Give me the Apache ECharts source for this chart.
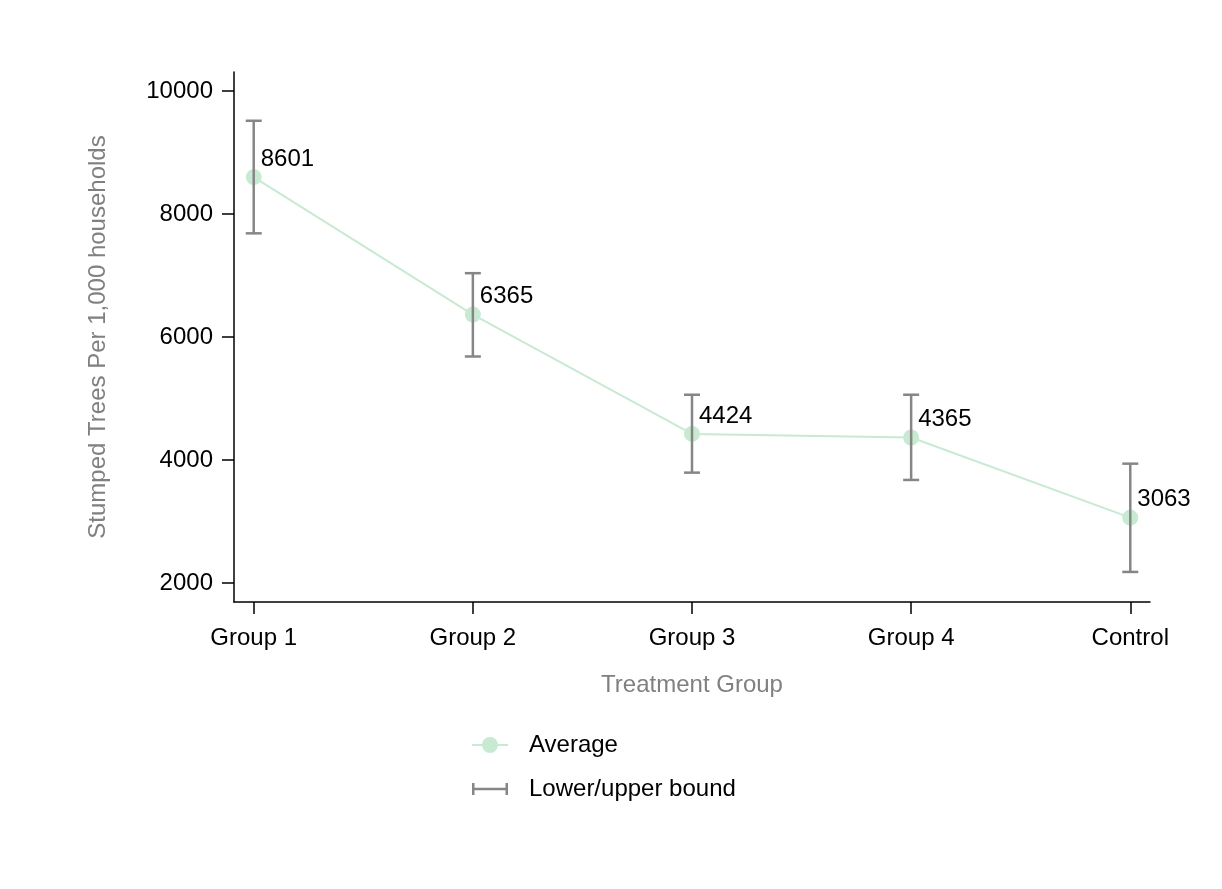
<!DOCTYPE html>
<html>
<head>
<meta charset="utf-8">
<script src="https://cdn.jsdelivr.net/npm/echarts@6/dist/echarts.min.js"></script>
<style>
html,body{margin:0;padding:0;background:#fff;}
#chart{width:1222px;height:889px;}
</style>
</head>
<body>
<div id="chart"></div>
<script>
var categories = ['Group 1', 'Group 2', 'Group 3', 'Group 4', 'Control'];
var average = [8601, 6365, 4424, 4365, 3063];
var lower = [7686, 5683, 3794, 3675, 2179];
var upper = [9517, 7038, 5061, 5061, 3940];
var yTicks = [2000, 4000, 6000, 8000, 10000];
var xTicks = [0, 1, 2, 3, 4];

var FONT = 'Liberation Sans, Arial, sans-serif';
var lineData = average.map(function (v, i) { return [i, v]; });
var barData = lower.map(function (v, i) { return [i, v, upper[i]]; });

var chart = echarts.init(document.getElementById('chart'));
chart.setOption({
  backgroundColor: '#ffffff',
  animation: false,
  textStyle: { fontFamily: FONT },
  grid: { left: 234, right: 72, top: 72, bottom: 287, containLabel: false, outerBoundsMode: 'none' },
  legend: {
    orient: 'vertical',
    left: 466,
    top: 728,
    itemWidth: 36,
    itemHeight: 20,
    itemGap: 20,
    textStyle: { fontSize: 24, color: '#000', fontFamily: FONT, padding: [0, 0, 0, 16] },
    data: [
      { name: 'Average' },
      { name: 'Lower/upper bound', icon: 'path://M0,0h2.5v12h-2.5z M0,4.75h36v2.5h-36z M33.5,0h2.5v12h-2.5z' }
    ]
  },
  xAxis: {
    type: 'value',
    min: -0.09,
    max: 4.09,
    name: 'Treatment Group',
    nameLocation: 'middle',
    nameGap: 71,
    nameTextStyle: { fontSize: 24, color: '#808080', fontFamily: FONT },
    axisLine: { show: true, onZero: false, lineStyle: { color: '#000', width: 1.5 } },
    axisTick: { show: true, length: 12, customValues: xTicks, lineStyle: { color: '#000', width: 1.5 } },
    axisLabel: {
      customValues: xTicks,
      margin: 24,
      fontSize: 24,
      color: '#000',
      fontFamily: FONT,
      formatter: function (v) { return categories[Math.round(v)]; }
    },
    splitLine: { show: false }
  },
  yAxis: {
    type: 'value',
    min: 1690,
    max: 10310,
    name: 'Stumped Trees Per 1,000 households',
    nameLocation: 'middle',
    nameGap: 124,
    nameTextStyle: { fontSize: 24, color: '#808080', fontFamily: FONT },
    axisLine: { show: true, onZero: false, lineStyle: { color: '#000', width: 1.5 } },
    axisTick: { show: true, length: 12, customValues: yTicks, lineStyle: { color: '#000', width: 1.5 } },
    axisLabel: {
      customValues: yTicks,
      margin: 21,
      fontSize: 24,
      color: '#000',
      fontFamily: FONT,
      formatter: function (v) { return String(v); }
    },
    splitLine: { show: false }
  },
  series: [
    {
      name: 'Average',
      type: 'line',
      data: lineData,
      symbol: 'circle',
      symbolSize: 16,
      lineStyle: { color: '#c8ead2', width: 2 },
      itemStyle: { color: '#c8ead2' },
      z: 2,
      label: {
        show: true,
        position: [15, -10],
        align: 'left',
        verticalAlign: 'middle',
        fontSize: 24,
        color: '#000',
        fontFamily: FONT,
        formatter: function (p) { return p.value[1]; }
      },
      labelLayout: { hideOverlap: false }
    },
    {
      name: 'Lower/upper bound',
      type: 'custom',
      data: barData,
      z: 3,
      itemStyle: { color: '#868686' },
      encode: { x: 0, y: [1, 2] },
      renderItem: function (params, api) {
        var lo = api.coord([api.value(0), api.value(1)]);
        var hi = api.coord([api.value(0), api.value(2)]);
        var half = 8;
        var style = { stroke: '#868686', lineWidth: 2.5, fill: null };
        return {
          type: 'group',
          children: [
            { type: 'line', shape: { x1: lo[0], y1: lo[1], x2: hi[0], y2: hi[1] }, style: style },
            { type: 'line', shape: { x1: lo[0] - half, y1: lo[1], x2: lo[0] + half, y2: lo[1] }, style: style },
            { type: 'line', shape: { x1: hi[0] - half, y1: hi[1], x2: hi[0] + half, y2: hi[1] }, style: style }
          ]
        };
      }
    }
  ]
});
</script>
</body>
</html>
